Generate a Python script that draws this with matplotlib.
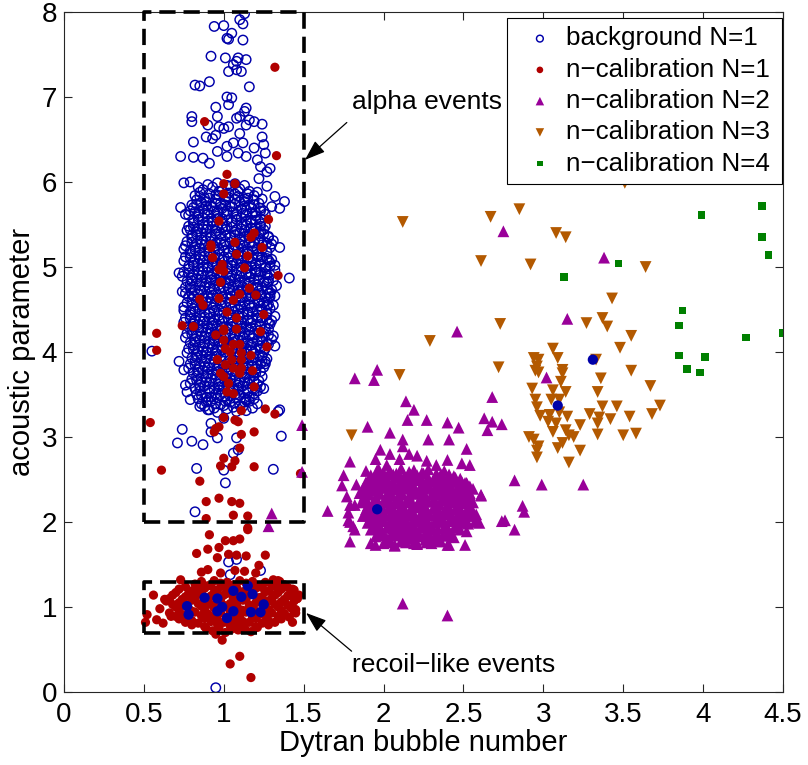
import numpy as np
import matplotlib
matplotlib.use("Agg")
import matplotlib.pyplot as plt

plt.rcParams['font.family'] = ['Liberation Sans', 'DejaVu Sans']

# ---------------------------------------------------------------- data
# background N=1 : sparse events around the alpha band
bg_outer = [
    (1.13,7.98),(1.10,7.91),(1.12,7.86),(0.94,7.83),(1.00,7.84),(1.05,7.75),(1.02,7.69),
    (1.03,7.68),(1.12,7.67),(0.92,7.48),(1.01,7.46),(1.09,7.46),(1.08,7.42),(1.14,7.44),
    (1.06,7.38),(1.03,7.30),(1.08,7.32),(1.11,7.30),(0.82,7.14),(0.85,7.13),(0.91,7.18),
    (1.16,7.12),(1.02,7.00),(1.05,6.99),(1.03,6.91),(0.95,6.88),(1.14,6.87),(1.13,6.83),
    (1.10,6.77),(0.80,6.77),(0.80,6.71),(0.96,6.77),(0.90,6.67),(0.97,6.65),(1.03,6.65),
    (1.16,6.73),(1.19,6.71),(1.24,6.68),(1.14,6.67),(1.08,6.75),(1.00,6.63),(0.81,6.47),
    (0.89,6.53),(0.95,6.55),(1.10,6.57),(1.24,6.53),(1.25,6.44),(1.26,6.34),(0.73,6.30),
    (0.81,6.29),(0.87,6.28),(1.06,6.46),(1.12,6.46),(1.19,6.40),(1.02,6.42),(0.96,6.36),
    (0.93,6.51),(1.09,6.34),(1.14,6.30),(1.02,6.30),(1.21,6.26),(0.91,6.22),(1.23,6.18),
    (1.29,6.16),(0.75,5.99),(0.79,6.00),(0.84,5.94),(1.27,5.95),(1.22,6.04),(1.27,6.12),
    (1.32,5.83),(1.38,5.77),(1.35,5.69),(1.30,5.71),(0.73,5.70),(0.76,5.62),(1.31,5.31),
    (1.35,5.23),(1.41,4.87),(1.27,4.91),(0.72,4.93),(0.75,5.21),(0.79,5.44),(1.23,5.42),
    (1.28,5.08),(1.29,4.69),(0.76,4.69),(1.27,4.55),(0.75,4.49),(1.28,4.34),(0.55,4.01),
    (1.32,4.07),(1.26,3.89),(0.72,3.89),(0.75,3.79),(0.76,3.61),(0.77,3.53),(1.25,3.57),
    (0.79,3.44),(0.85,3.36),(0.91,3.32),(1.00,3.22),(1.14,3.44),(1.35,3.32),(0.74,3.09),
    (0.92,3.16),(0.96,2.99),(0.80,2.95),(0.87,2.91),(1.08,2.99),(1.36,3.01),(0.71,2.93),
    (0.92,3.06),(1.34,3.30),(0.83,2.63),(1.00,2.61),(1.01,2.46),(1.31,2.62),(0.82,2.12),
    (1.06,2.81),(1.09,2.85),(1.03,1.53),(1.08,1.56),(1.23,1.43),(1.04,1.38),(0.95,0.05),
]

# background N=1 : dense core of the alpha band
bg_core_a = [
    (0.87,5.91),(0.93,5.94),(0.99,5.90),(1.04,5.95),(1.10,5.92),(1.16,5.89),
    (0.82,5.84),(0.88,5.81),(0.95,5.85),(1.01,5.82),(1.07,5.86),(1.13,5.80),(1.19,5.84),
    (0.80,5.73),(0.86,5.76),(0.92,5.72),(0.98,5.75),(1.04,5.71),(1.10,5.77),(1.16,5.73),(1.22,5.75),
    (0.79,5.66),(0.84,5.63),(0.90,5.67),(0.96,5.64),(1.02,5.66),(1.08,5.62),(1.14,5.67),(1.20,5.64),(1.25,5.66),
    (0.81,5.55),(0.87,5.58),(0.93,5.54),(0.99,5.57),(1.05,5.53),(1.11,5.58),(1.17,5.55),(1.23,5.57),
    (0.78,5.48),(0.84,5.45),(0.90,5.49),(0.96,5.46),(1.02,5.48),(1.08,5.44),(1.14,5.49),(1.20,5.46),(1.26,5.48),
    (0.80,5.37),(0.86,5.40),(0.92,5.36),(0.98,5.39),(1.04,5.35),(1.10,5.40),(1.16,5.37),(1.22,5.39),(1.28,5.36),
    (0.77,5.30),(0.83,5.27),(0.89,5.31),(0.95,5.28),(1.01,5.30),(1.07,5.26),(1.13,5.31),(1.19,5.28),(1.25,5.30),(1.30,5.27),
    (0.79,5.19),(0.85,5.22),(0.91,5.18),(0.97,5.21),(1.03,5.17),(1.09,5.22),(1.15,5.19),(1.21,5.21),(1.27,5.18),
    (0.76,5.12),(0.82,5.09),(0.88,5.13),(0.94,5.10),(1.00,5.12),(1.06,5.08),(1.12,5.13),(1.18,5.10),(1.24,5.12),(1.30,5.09),
    (0.78,5.01),(0.84,5.04),(0.90,5.00),(0.96,5.03),(1.02,4.99),(1.08,5.04),(1.14,5.01),(1.20,5.03),(1.26,5.00),(1.32,5.02),
    (0.75,4.94),(0.81,4.91),(0.87,4.95),(0.93,4.92),(0.99,4.94),(1.05,4.90),(1.11,4.95),(1.17,4.92),(1.23,4.94),(1.29,4.91),
    (0.77,4.83),(0.83,4.86),(0.89,4.82),(0.95,4.85),(1.01,4.81),(1.07,4.86),(1.13,4.83),(1.19,4.85),(1.25,4.82),(1.31,4.84),
    (0.76,4.76),(0.82,4.73),(0.88,4.77),(0.94,4.74),(1.00,4.76),(1.06,4.72),(1.12,4.77),(1.18,4.74),(1.24,4.76),(1.30,4.73),
    (0.78,4.65),(0.84,4.68),(0.90,4.64),(0.96,4.67),(1.02,4.63),(1.08,4.68),(1.14,4.65),(1.20,4.67),(1.26,4.64),(1.32,4.66),
    (0.77,4.58),(0.83,4.55),(0.89,4.59),(0.95,4.56),(1.01,4.58),(1.07,4.54),(1.13,4.59),(1.19,4.56),(1.25,4.58),(1.31,4.55),
    (0.79,4.47),(0.85,4.50),(0.91,4.46),(0.97,4.49),(1.03,4.45),(1.09,4.50),(1.15,4.47),(1.21,4.49),(1.27,4.46),
    (0.76,4.40),(0.82,4.37),(0.88,4.41),(0.94,4.38),(1.00,4.40),(1.06,4.36),(1.12,4.41),(1.18,4.38),(1.24,4.40),(1.30,4.37),
    (0.78,4.29),(0.84,4.32),(0.90,4.28),(0.96,4.31),(1.02,4.27),(1.08,4.32),(1.14,4.29),(1.20,4.31),(1.26,4.28),
    (0.77,4.22),(0.83,4.19),(0.89,4.23),(0.95,4.20),(1.01,4.22),(1.07,4.18),(1.13,4.23),(1.19,4.20),(1.25,4.22),(1.31,4.19),
    (0.79,4.11),(0.85,4.14),(0.91,4.10),(0.97,4.13),(1.03,4.09),(1.09,4.14),(1.15,4.11),(1.21,4.13),(1.27,4.10),
    (0.78,4.04),(0.84,4.01),(0.90,4.05),(0.96,4.02),(1.02,4.04),(1.08,4.00),(1.14,4.05),(1.20,4.02),(1.26,4.04),
    (0.80,3.93),(0.86,3.96),(0.92,3.92),(0.98,3.95),(1.04,3.91),(1.10,3.96),(1.16,3.93),(1.22,3.95),(1.27,3.92),
    (0.79,3.86),(0.85,3.83),(0.91,3.87),(0.97,3.84),(1.03,3.86),(1.09,3.82),(1.15,3.87),(1.21,3.84),(1.26,3.86),
    (0.81,3.75),(0.87,3.78),(0.93,3.74),(0.99,3.77),(1.05,3.73),(1.11,3.78),(1.17,3.75),(1.23,3.77),
    (0.80,3.68),(0.86,3.65),(0.92,3.69),(0.98,3.66),(1.04,3.68),(1.10,3.64),(1.16,3.69),(1.22,3.66),
    (0.82,3.57),(0.88,3.60),(0.94,3.56),(1.00,3.59),(1.06,3.55),(1.12,3.60),(1.18,3.57),(1.23,3.59),
    (0.83,3.50),(0.89,3.47),(0.95,3.51),(1.01,3.48),(1.07,3.50),(1.13,3.46),(1.19,3.51),
    (0.86,3.39),(0.92,3.42),(0.98,3.38),(1.04,3.41),(1.10,3.37),(1.16,3.42),(1.21,3.39),
    (0.90,3.32),(0.96,3.29),(1.02,3.33),(1.08,3.30),(1.14,3.31),
]

bg_core_b = [
    (0.90,5.97),(0.96,5.99),(1.02,5.96),(1.07,5.98),(1.13,5.96),
    (0.85,5.88),(0.91,5.86),(0.97,5.89),(1.03,5.87),(1.09,5.89),(1.15,5.86),(1.21,5.88),
    (0.83,5.79),(0.89,5.77),(0.95,5.80),(1.01,5.78),(1.07,5.80),(1.13,5.77),(1.19,5.79),(1.24,5.80),
    (0.81,5.70),(0.87,5.68),(0.93,5.71),(0.99,5.69),(1.05,5.71),(1.11,5.68),(1.17,5.70),(1.23,5.69),
    (0.78,5.61),(0.84,5.59),(0.90,5.62),(0.96,5.60),(1.02,5.62),(1.08,5.59),(1.14,5.61),(1.20,5.60),(1.26,5.62),
    (0.81,5.52),(0.87,5.50),(0.93,5.53),(0.99,5.51),(1.05,5.53),(1.11,5.50),(1.17,5.52),(1.23,5.51),
    (0.77,5.43),(0.83,5.41),(0.89,5.44),(0.95,5.42),(1.01,5.44),(1.07,5.41),(1.13,5.43),(1.19,5.42),(1.25,5.44),
    (0.80,5.34),(0.86,5.32),(0.92,5.35),(0.98,5.33),(1.04,5.35),(1.10,5.32),(1.16,5.34),(1.22,5.33),(1.28,5.35),
    (0.76,5.25),(0.82,5.23),(0.88,5.26),(0.94,5.24),(1.00,5.26),(1.06,5.23),(1.12,5.25),(1.18,5.24),(1.24,5.26),(1.29,5.23),
    (0.79,5.16),(0.85,5.14),(0.91,5.17),(0.97,5.15),(1.03,5.17),(1.09,5.14),(1.15,5.16),(1.21,5.15),(1.27,5.17),
    (0.75,5.07),(0.81,5.05),(0.87,5.08),(0.93,5.06),(0.99,5.08),(1.05,5.05),(1.11,5.07),(1.17,5.06),(1.23,5.08),(1.29,5.05),
    (0.78,4.98),(0.84,4.96),(0.90,4.99),(0.96,4.97),(1.02,4.99),(1.08,4.96),(1.14,4.98),(1.20,4.97),(1.26,4.99),(1.32,4.96),
    (0.74,4.89),(0.80,4.87),(0.86,4.90),(0.92,4.88),(0.98,4.90),(1.04,4.87),(1.10,4.89),(1.16,4.88),(1.22,4.90),(1.28,4.87),
    (0.79,4.80),(0.85,4.78),(0.91,4.81),(0.97,4.79),(1.03,4.81),(1.09,4.78),(1.15,4.80),(1.21,4.79),(1.27,4.81),(1.33,4.78),
    (0.74,4.71),(0.80,4.69),(0.86,4.72),(0.92,4.70),(0.98,4.72),(1.04,4.69),(1.10,4.71),(1.16,4.70),(1.22,4.72),(1.28,4.69),
    (0.80,4.62),(0.86,4.60),(0.92,4.63),(0.98,4.61),(1.04,4.63),(1.10,4.60),(1.16,4.62),(1.22,4.61),(1.28,4.63),
    (0.75,4.53),(0.81,4.51),(0.87,4.54),(0.93,4.52),(0.99,4.54),(1.05,4.51),(1.11,4.53),(1.17,4.52),(1.23,4.54),(1.29,4.51),
    (0.79,4.44),(0.85,4.42),(0.91,4.45),(0.97,4.43),(1.03,4.45),(1.09,4.42),(1.15,4.44),(1.21,4.43),(1.27,4.45),(1.32,4.42),
    (0.75,4.35),(0.81,4.33),(0.87,4.36),(0.93,4.34),(0.99,4.36),(1.05,4.33),(1.11,4.35),(1.17,4.34),(1.23,4.36),(1.29,4.33),
    (0.80,4.26),(0.86,4.24),(0.92,4.27),(0.98,4.25),(1.04,4.27),(1.10,4.24),(1.16,4.26),(1.22,4.25),(1.28,4.27),
    (0.76,4.17),(0.82,4.15),(0.88,4.18),(0.94,4.16),(1.00,4.18),(1.06,4.15),(1.12,4.17),(1.18,4.16),(1.24,4.18),(1.30,4.15),
    (0.81,4.08),(0.87,4.06),(0.93,4.09),(0.99,4.07),(1.05,4.09),(1.11,4.06),(1.17,4.08),(1.23,4.07),(1.28,4.09),
    (0.77,3.99),(0.83,3.97),(0.89,4.00),(0.95,3.98),(1.01,4.00),(1.07,3.97),(1.13,3.99),(1.19,3.98),(1.25,4.00),
    (0.82,3.90),(0.88,3.88),(0.94,3.91),(1.00,3.89),(1.06,3.91),(1.12,3.88),(1.18,3.90),(1.24,3.89),
    (0.78,3.81),(0.84,3.79),(0.90,3.82),(0.96,3.80),(1.02,3.82),(1.08,3.79),(1.14,3.81),(1.20,3.80),(1.25,3.82),
    (0.83,3.72),(0.89,3.70),(0.95,3.73),(1.01,3.71),(1.07,3.73),(1.13,3.70),(1.19,3.72),(1.24,3.71),
    (0.79,3.63),(0.85,3.61),(0.91,3.64),(0.97,3.62),(1.03,3.64),(1.09,3.61),(1.15,3.63),(1.21,3.62),
    (0.85,3.54),(0.91,3.52),(0.97,3.55),(1.03,3.53),(1.09,3.55),(1.15,3.52),(1.21,3.54),
    (0.84,3.45),(0.90,3.43),(0.96,3.46),(1.02,3.44),(1.08,3.46),(1.14,3.43),(1.19,3.45),
    (0.88,3.36),(0.94,3.34),(1.00,3.37),(1.06,3.35),(1.12,3.36),(1.18,3.34),
]

bg_core_c = [
    (0.85,5.83),(0.91,5.81),(0.97,5.84),(1.03,5.82),(1.09,5.83),(1.15,5.81),
    (0.83,5.74),(0.89,5.72),(0.95,5.75),(1.01,5.73),(1.07,5.74),(1.13,5.72),(1.19,5.73),
    (0.82,5.65),(0.88,5.63),(0.94,5.66),(1.00,5.64),(1.06,5.65),(1.12,5.63),(1.18,5.64),(1.23,5.66),
    (0.84,5.56),(0.90,5.54),(0.96,5.57),(1.02,5.55),(1.08,5.56),(1.14,5.54),(1.20,5.55),
    (0.81,5.47),(0.87,5.45),(0.93,5.48),(0.99,5.46),(1.05,5.47),(1.11,5.45),(1.17,5.46),(1.23,5.48),
    (0.83,5.38),(0.89,5.36),(0.95,5.39),(1.01,5.37),(1.07,5.38),(1.13,5.36),(1.19,5.37),(1.25,5.39),
    (0.80,5.29),(0.86,5.27),(0.92,5.30),(0.98,5.28),(1.04,5.29),(1.10,5.27),(1.16,5.28),(1.22,5.30),(1.27,5.28),
    (0.82,5.20),(0.88,5.18),(0.94,5.21),(1.00,5.19),(1.06,5.20),(1.12,5.18),(1.18,5.19),(1.24,5.21),
    (0.79,5.11),(0.85,5.09),(0.91,5.12),(0.97,5.10),(1.03,5.11),(1.09,5.09),(1.15,5.10),(1.21,5.12),(1.27,5.10),
    (0.81,5.02),(0.87,5.00),(0.93,5.03),(0.99,5.01),(1.05,5.02),(1.11,5.00),(1.17,5.01),(1.23,5.03),(1.29,5.01),
    (0.78,4.93),(0.84,4.91),(0.90,4.94),(0.96,4.92),(1.02,4.93),(1.08,4.91),(1.14,4.92),(1.20,4.94),(1.26,4.92),
    (0.80,4.84),(0.86,4.82),(0.92,4.85),(0.98,4.83),(1.04,4.84),(1.10,4.82),(1.16,4.83),(1.22,4.85),(1.28,4.83),
    (0.79,4.75),(0.85,4.73),(0.91,4.76),(0.97,4.74),(1.03,4.75),(1.09,4.73),(1.15,4.74),(1.21,4.76),(1.27,4.74),
    (0.81,4.66),(0.87,4.64),(0.93,4.67),(0.99,4.65),(1.05,4.66),(1.11,4.64),(1.17,4.65),(1.23,4.67),(1.29,4.65),
    (0.80,4.57),(0.86,4.55),(0.92,4.58),(0.98,4.56),(1.04,4.57),(1.10,4.55),(1.16,4.56),(1.22,4.58),(1.28,4.56),
    (0.82,4.48),(0.88,4.46),(0.94,4.49),(1.00,4.47),(1.06,4.48),(1.12,4.46),(1.18,4.47),(1.24,4.49),
    (0.79,4.39),(0.85,4.37),(0.91,4.40),(0.97,4.38),(1.03,4.39),(1.09,4.37),(1.15,4.38),(1.21,4.40),(1.27,4.38),
    (0.81,4.30),(0.87,4.28),(0.93,4.31),(0.99,4.29),(1.05,4.30),(1.11,4.28),(1.17,4.29),(1.23,4.31),
    (0.80,4.21),(0.86,4.19),(0.92,4.22),(0.98,4.20),(1.04,4.21),(1.10,4.19),(1.16,4.20),(1.22,4.22),(1.28,4.20),
    (0.82,4.12),(0.88,4.10),(0.94,4.13),(1.00,4.11),(1.06,4.12),(1.12,4.10),(1.18,4.11),(1.24,4.13),
    (0.81,4.03),(0.87,4.01),(0.93,4.04),(0.99,4.02),(1.05,4.03),(1.11,4.01),(1.17,4.02),(1.23,4.04),
    (0.83,3.94),(0.89,3.92),(0.95,3.95),(1.01,3.93),(1.07,3.94),(1.13,3.92),(1.19,3.93),(1.24,3.95),
    (0.82,3.85),(0.88,3.83),(0.94,3.86),(1.00,3.84),(1.06,3.85),(1.12,3.83),(1.18,3.84),(1.23,3.86),
    (0.84,3.76),(0.90,3.74),(0.96,3.77),(1.02,3.75),(1.08,3.76),(1.14,3.74),(1.20,3.75),
    (0.83,3.67),(0.89,3.65),(0.95,3.68),(1.01,3.66),(1.07,3.67),(1.13,3.65),(1.19,3.66),
    (0.85,3.58),(0.91,3.56),(0.97,3.59),(1.03,3.57),(1.09,3.58),(1.15,3.56),(1.20,3.57),
    (0.86,3.49),(0.92,3.47),(0.98,3.50),(1.04,3.48),(1.10,3.49),(1.16,3.47),
    (0.89,3.41),(0.95,3.39),(1.01,3.42),(1.07,3.40),(1.13,3.41),
]

# n-calibration N=1 : single-bubble events (alpha band and outliers)
n1_scatter = [
    (1.32,7.35),(0.88,6.71),(1.33,6.31),(1.02,6.09),(1.00,5.98),(1.07,5.98),(1.00,5.86),
    (1.28,5.56),(0.97,5.54),(1.19,5.40),(1.17,5.35),(1.07,5.29),(0.92,5.26),(0.92,5.23),
    (1.24,5.23),(1.08,5.15),(1.15,5.13),(0.93,5.11),(0.99,5.03),(0.97,4.97),(1.00,4.95),
    (1.13,4.99),(1.34,4.90),(0.98,4.82),(1.16,4.75),(1.10,4.68),(1.20,4.67),(0.85,4.62),
    (0.87,4.55),(0.97,4.63),(1.06,4.61),(1.02,4.47),(1.08,4.40),(1.25,4.44),(0.74,4.31),
    (0.81,4.30),(1.00,4.27),(1.08,4.27),(0.58,4.22),(0.58,4.02),(0.95,4.20),(1.00,4.25),
    (1.23,4.24),(1.00,4.14),(1.06,4.09),(1.10,4.09),(1.27,4.06),(1.01,4.04),(1.04,4.00),
    (1.11,3.99),(1.17,3.96),(0.96,3.91),(1.05,3.91),(1.11,3.91),(1.01,3.85),(1.11,3.81),
    (1.06,3.81),(1.18,3.78),(0.98,3.75),(1.00,3.71),(1.10,3.75),(1.03,3.63),(1.19,3.59),
    (1.02,3.53),(1.06,3.51),(0.54,3.17),(1.11,3.31),(1.26,3.33),(1.32,3.27),(1.00,3.23),
    (1.07,3.20),(1.09,3.18),(0.95,3.10),(0.97,3.12),(0.94,3.06),(1.19,3.06),(1.11,3.03),
    (1.10,2.87),(1.07,2.72),(1.00,2.75),(0.98,2.66),(1.05,2.65),(1.19,2.65),(0.61,2.61),
    (0.85,2.48),(0.89,2.24),(0.97,2.28),(1.05,2.24),(1.10,2.22),(0.89,2.04),(1.06,2.08),
    (1.15,2.07),(1.48,2.57),(1.15,1.93),(0.91,1.85),(1.15,1.91),(1.01,1.78),(1.06,1.78),
    (1.10,1.80),(0.83,1.63),(0.90,1.68),(0.97,1.70),(0.96,1.58),(1.03,1.62),(1.08,1.61),
    (1.14,1.60),(1.26,1.61),(1.22,1.49),(0.86,1.41),(0.90,1.44),(0.98,1.40),(1.07,1.43),
    (1.13,1.42),(1.20,1.40),(0.73,1.32),(0.56,1.14),(0.63,1.09),(0.60,0.98),(0.52,0.91),
    (0.51,0.82),(0.58,0.85),(0.62,0.81),(0.67,0.89),(1.43,1.21),(1.46,1.10),(1.45,0.97),
    (1.43,0.82),(1.35,1.30),(1.31,1.32),(0.95,0.68),(0.99,0.61),(1.10,0.42),(1.04,0.33),
    (1.17,0.17),
]

# n-calibration N=1 : recoil-like cluster
n1_recoil = [
    (0.82,1.27),(0.90,1.25),(0.98,1.28),(1.06,1.26),(1.14,1.28),(1.22,1.25),(1.30,1.27),(1.38,1.26),
    (0.72,1.21),(0.80,1.19),(0.88,1.22),(0.96,1.20),(1.04,1.21),(1.12,1.18),(1.20,1.22),(1.28,1.19),(1.36,1.21),(1.44,1.20),
    (0.68,1.14),(0.76,1.12),(0.84,1.15),(0.92,1.13),(1.00,1.14),(1.08,1.11),(1.16,1.15),(1.24,1.12),(1.32,1.14),(1.40,1.13),(1.47,1.14),
    (0.64,1.07),(0.72,1.05),(0.80,1.08),(0.88,1.06),(0.96,1.07),(1.04,1.04),(1.12,1.08),(1.20,1.05),(1.28,1.07),(1.36,1.06),(1.44,1.07),
    (0.70,1.00),(0.78,0.98),(0.86,1.01),(0.94,0.99),(1.02,1.00),(1.10,0.97),(1.18,1.01),(1.26,0.98),(1.34,1.00),(1.42,0.99),
    (0.66,0.93),(0.74,0.91),(0.82,0.94),(0.90,0.92),(0.98,0.93),(1.06,0.90),(1.14,0.94),(1.22,0.91),(1.30,0.93),(1.38,0.92),(1.45,0.93),
    (0.72,0.86),(0.80,0.84),(0.88,0.87),(0.96,0.85),(1.04,0.86),(1.12,0.83),(1.20,0.87),(1.28,0.84),(1.36,0.86),
    (0.80,0.79),(0.88,0.77),(0.96,0.80),(1.04,0.78),(1.12,0.79),(1.20,0.77),(1.28,0.79),
    (0.93,0.72),(1.01,0.70),(1.09,0.73),(1.17,0.71),
    (0.86,1.30),(0.94,1.31),(1.02,1.29),(1.10,1.31),(1.18,1.30),(1.26,1.29),(1.34,1.31),
    (0.76,1.24),(0.84,1.23),(0.92,1.25),(1.00,1.24),(1.08,1.23),(1.16,1.24),(1.24,1.23),(1.32,1.24),(1.40,1.23),
    (0.70,1.17),(0.78,1.16),(0.86,1.18),(0.94,1.17),(1.02,1.16),(1.10,1.17),(1.18,1.16),(1.26,1.18),(1.34,1.17),(1.42,1.16),
    (0.66,1.10),(0.74,1.09),(0.82,1.11),(0.90,1.10),(0.98,1.09),(1.06,1.10),(1.14,1.09),(1.22,1.11),(1.30,1.10),(1.38,1.09),(1.46,1.10),
    (0.68,1.03),(0.76,1.02),(0.84,1.04),(0.92,1.03),(1.00,1.02),(1.08,1.03),(1.16,1.02),(1.24,1.04),(1.32,1.03),(1.40,1.02),
    (0.72,0.96),(0.80,0.95),(0.88,0.97),(0.96,0.96),(1.04,0.95),(1.12,0.96),(1.20,0.95),(1.28,0.97),(1.36,0.96),(1.44,0.95),
    (0.70,0.89),(0.78,0.88),(0.86,0.90),(0.94,0.89),(1.02,0.88),(1.10,0.89),(1.18,0.88),(1.26,0.90),(1.34,0.89),(1.41,0.88),
    (0.76,0.82),(0.84,0.81),(0.92,0.83),(1.00,0.82),(1.08,0.81),(1.16,0.82),(1.24,0.81),(1.32,0.82),
    (0.89,0.75),(0.97,0.76),(1.05,0.74),(1.13,0.75),(1.21,0.76),
]

# n-calibration N=2
n2_outer = [
    (2.46,4.24),(1.96,3.79),(1.82,3.69),(1.94,3.67),(2.14,3.42),(2.19,3.32),(2.15,3.20),
    (2.27,3.20),(2.40,3.17),(2.47,3.11),(1.90,3.12),(2.04,3.05),(2.12,2.97),(2.28,2.97),
    (2.41,2.97),(2.52,2.86),(2.68,3.47),(2.63,3.22),(2.68,3.18),(2.74,3.15),(2.65,3.08),
    (1.79,2.71),(1.75,2.55),(1.74,2.43),(1.65,2.13),(1.77,2.30),(1.78,2.11),(1.78,2.02),
    (1.82,1.91),(1.79,1.77),(1.95,1.73),(2.07,1.72),(2.21,1.75),(2.41,1.73),(2.51,1.73),
    (2.52,1.89),(2.58,2.09),(2.61,2.31),(2.52,2.46),(2.54,2.67),(2.49,2.69),(2.82,2.49),
    (2.99,2.44),(2.87,2.19),(2.88,2.12),(2.74,2.01),(2.76,2.02),(2.82,1.91),(2.60,1.99),
    (2.12,1.04),(2.40,0.90),(3.38,5.11),(3.15,4.39),(3.02,3.70),(3.25,2.44),(2.61,2.32),
    (1.49,3.14),(1.49,2.59),(1.30,2.10),(1.28,1.95),(2.75,5.42),(1.98,2.85),(2.12,2.89),
    (2.04,2.80),(1.95,2.74),(2.16,2.80),(2.21,2.78),(2.10,2.74),(2.27,2.72),(2.40,2.73),
    (2.33,2.67),(2.02,2.67),(1.89,2.60),(1.96,2.61),(2.18,2.55),(2.35,2.53),(2.45,2.52),
    (1.83,2.44),(1.89,2.42),(2.52,2.45),(1.85,2.34),(1.79,2.20),(1.82,2.20),(2.57,2.00),
    (1.79,2.00),(1.92,1.75),(1.81,1.95),
]

n2_core = [
    (1.97,2.62),(2.04,2.60),(2.11,2.63),(2.19,2.61),(2.28,2.62),(2.38,2.60),
    (1.92,2.55),(1.99,2.53),(2.06,2.56),(2.13,2.54),(2.21,2.55),(2.28,2.52),(2.36,2.56),(2.44,2.54),
    (1.89,2.47),(1.96,2.45),(2.03,2.48),(2.10,2.46),(2.17,2.47),(2.24,2.44),(2.31,2.48),(2.38,2.45),(2.45,2.47),(2.51,2.46),
    (1.87,2.39),(1.94,2.37),(2.01,2.40),(2.08,2.38),(2.15,2.39),(2.22,2.36),(2.29,2.40),(2.36,2.37),(2.43,2.39),(2.50,2.38),(2.56,2.39),
    (1.88,2.31),(1.95,2.29),(2.02,2.32),(2.09,2.30),(2.16,2.31),(2.23,2.28),(2.30,2.32),(2.37,2.29),(2.44,2.31),(2.51,2.30),
    (1.86,2.23),(1.93,2.21),(2.00,2.24),(2.07,2.22),(2.14,2.23),(2.21,2.20),(2.28,2.24),(2.35,2.21),(2.42,2.23),(2.49,2.22),(2.56,2.23),
    (1.89,2.15),(1.96,2.13),(2.03,2.16),(2.10,2.14),(2.17,2.15),(2.24,2.12),(2.31,2.16),(2.38,2.13),(2.45,2.15),(2.52,2.14),
    (1.87,2.07),(1.94,2.05),(2.01,2.08),(2.08,2.06),(2.15,2.07),(2.22,2.04),(2.29,2.08),(2.36,2.05),(2.43,2.07),(2.50,2.06),(2.57,2.07),
    (1.90,1.99),(1.97,1.97),(2.04,2.00),(2.11,1.98),(2.18,1.99),(2.25,1.96),(2.32,2.00),(2.39,1.97),(2.46,1.99),(2.53,1.98),
    (1.92,1.91),(1.99,1.89),(2.06,1.92),(2.13,1.90),(2.20,1.91),(2.27,1.88),(2.34,1.92),(2.41,1.89),(2.48,1.91),
    (1.95,1.83),(2.02,1.81),(2.09,1.84),(2.16,1.82),(2.23,1.83),(2.30,1.80),(2.37,1.84),(2.44,1.82),
    (2.00,1.75),(2.07,1.73),(2.14,1.76),(2.21,1.74),(2.30,1.75),(2.40,1.73),
    (2.00,2.58),(2.08,2.57),(2.16,2.59),(2.24,2.58),(2.33,2.57),
    (1.95,2.51),(2.02,2.50),(2.09,2.52),(2.17,2.51),(2.24,2.50),(2.32,2.51),(2.40,2.50),(2.48,2.51),
    (1.91,2.43),(1.98,2.42),(2.05,2.44),(2.12,2.43),(2.19,2.42),(2.26,2.43),(2.34,2.42),(2.41,2.44),(2.48,2.43),(2.54,2.42),
    (1.90,2.35),(1.97,2.34),(2.04,2.36),(2.11,2.35),(2.18,2.34),(2.25,2.35),(2.33,2.34),(2.40,2.36),(2.47,2.35),(2.54,2.34),
    (1.89,2.27),(1.96,2.26),(2.03,2.28),(2.10,2.27),(2.17,2.26),(2.24,2.27),(2.32,2.26),(2.39,2.28),(2.46,2.27),(2.53,2.26),
    (1.90,2.19),(1.97,2.18),(2.04,2.20),(2.11,2.19),(2.18,2.18),(2.25,2.19),(2.33,2.18),(2.40,2.20),(2.47,2.19),(2.54,2.18),
    (1.91,2.11),(1.98,2.10),(2.05,2.12),(2.12,2.11),(2.19,2.10),(2.26,2.11),(2.34,2.10),(2.41,2.12),(2.48,2.11),(2.55,2.10),
    (1.92,2.03),(1.99,2.02),(2.06,2.04),(2.13,2.03),(2.20,2.02),(2.27,2.03),(2.35,2.02),(2.42,2.04),(2.49,2.03),
    (1.95,1.95),(2.02,1.94),(2.09,1.96),(2.16,1.95),(2.23,1.94),(2.30,1.95),(2.38,1.94),(2.45,1.96),
    (1.98,1.87),(2.05,1.86),(2.12,1.88),(2.19,1.87),(2.26,1.86),(2.33,1.87),(2.41,1.86),
    (2.04,1.79),(2.11,1.78),(2.18,1.80),(2.26,1.79),(2.35,1.78),
    (1.96,2.56),(2.03,2.57),(2.10,2.55),(2.17,2.56),(2.25,2.57),(2.33,2.55),(2.41,2.56),
    (1.92,2.48),(1.99,2.49),(2.06,2.47),(2.13,2.48),(2.20,2.49),(2.27,2.47),(2.35,2.48),(2.42,2.49),(2.49,2.47),
    (1.90,2.40),(1.97,2.41),(2.04,2.39),(2.11,2.40),(2.18,2.41),(2.25,2.39),(2.32,2.40),(2.39,2.41),(2.46,2.39),(2.53,2.40),
    (1.91,2.32),(1.98,2.33),(2.05,2.31),(2.12,2.32),(2.19,2.33),(2.26,2.31),(2.33,2.32),(2.40,2.33),(2.47,2.31),(2.54,2.32),
    (1.89,2.24),(1.96,2.25),(2.03,2.23),(2.10,2.24),(2.17,2.25),(2.24,2.23),(2.31,2.24),(2.38,2.25),(2.45,2.23),(2.52,2.24),
    (1.92,2.16),(1.99,2.17),(2.06,2.15),(2.13,2.16),(2.20,2.17),(2.27,2.15),(2.34,2.16),(2.41,2.17),(2.48,2.15),(2.55,2.16),
    (1.90,2.08),(1.97,2.09),(2.04,2.07),(2.11,2.08),(2.18,2.09),(2.25,2.07),(2.32,2.08),(2.39,2.09),(2.46,2.07),(2.53,2.08),
    (1.93,2.00),(2.00,2.01),(2.07,1.99),(2.14,2.00),(2.21,2.01),(2.28,1.99),(2.35,2.00),(2.42,2.01),(2.49,1.99),
    (1.96,1.92),(2.03,1.93),(2.10,1.91),(2.17,1.92),(2.24,1.93),(2.31,1.91),(2.38,1.92),(2.45,1.93),
    (1.99,1.84),(2.06,1.85),(2.13,1.83),(2.20,1.84),(2.27,1.85),(2.34,1.83),(2.41,1.84),
    (2.04,1.76),(2.12,1.77),(2.19,1.75),(2.27,1.76),(2.36,1.77),
]

# n-calibration N=3
n3 = [
    (3.51,5.99),(2.85,5.68),(2.67,5.59),(3.08,5.40),(3.14,5.35),(2.61,5.07),(2.92,5.03),
    (3.64,5.00),(2.12,5.53),(3.43,4.63),(2.73,4.33),(3.27,4.34),(3.37,4.40),(3.40,4.30),
    (3.55,4.19),(3.48,4.05),(3.06,4.04),(3.09,3.93),(2.97,3.91),(2.96,3.83),(2.72,3.82),
    (3.33,3.91),(3.12,3.79),(3.12,3.75),(3.55,3.78),(2.97,3.76),(3.36,3.69),(3.11,3.65),
    (3.67,3.60),(2.93,3.57),(3.06,3.55),(3.14,3.53),(3.34,3.53),(2.95,3.44),(3.05,3.44),
    (3.10,3.44),(3.37,3.36),(3.46,3.36),(3.73,3.37),(2.96,3.35),(2.98,3.25),(3.04,3.26),
    (3.10,3.29),(3.15,3.24),(3.29,3.27),(3.35,3.23),(3.42,3.21),(3.54,3.24),(3.68,3.27),
    (3.03,3.18),(3.08,3.16),(3.23,3.14),(3.34,3.16),(3.06,3.06),(3.14,3.08),(3.16,3.02),
    (3.19,3.00),(2.91,3.00),(2.94,2.97),(3.34,3.03),(3.50,3.02),(3.58,3.04),(3.12,2.93),
    (3.09,2.87),(2.96,2.84),(3.23,2.84),(2.96,2.76),(3.16,2.70),(2.29,4.13),(2.10,3.73),
    (1.80,3.02),(2.94,3.93),(2.95,3.78),(2.97,2.89),
]

# n-calibration N=4
n4 = [
    (4.37,5.72),(3.99,5.61),(4.37,5.35),(4.41,5.14),(3.47,5.04),(3.13,4.88),(3.87,4.49),
    (3.85,4.31),(4.50,4.22),(4.27,4.17),(3.85,3.96),(4.01,3.94),(3.90,3.80),(3.98,3.76),
]

# events marked by filled blue dots (not in legend)
marked = [
    (0.77,1.01),(0.78,0.91),(0.88,1.11),(0.96,1.10),(0.99,1.00),(0.96,0.95),(1.02,0.87),
    (1.06,0.95),(1.06,1.19),(1.11,1.12),(1.15,1.25),(1.18,1.15),(1.17,0.94),(1.23,0.94),
    (1.25,1.03),(1.96,2.15),(3.09,3.37),(3.31,3.91),
]

x_ticks = [0, 0.5, 1, 1.5, 2, 2.5, 3, 3.5, 4, 4.5]
x_tick_labels = ['0', '0.5', '1', '1.5', '2', '2.5', '3', '3.5', '4', '4.5']
y_ticks = [0, 1, 2, 3, 4, 5, 6, 7, 8]
legend_labels = ['background N=1', 'n\u2212calibration N=1', 'n\u2212calibration N=2',
                 'n\u2212calibration N=3', 'n\u2212calibration N=4']

# analysis windows (x0, x1, y0, y1)
alpha_window = (0.5, 1.5, 2.0, 8.0)
recoil_window = (0.5, 1.5, 0.7, 1.3)


def cols(pts):
    a = np.asarray(pts, dtype=float)
    return a[:, 0], a[:, 1]


# ---------------------------------------------------------------- figure
fig = plt.figure(figsize=(8.08, 7.65), dpi=100)
ax = fig.add_axes([64 / 808, 73 / 765, 719 / 808, 680 / 765])

BLUE = '#0000AA'
RED = '#B00000'
PURPLE = '#990099'
ORANGE = '#B35900'
GREEN = '#008000'
DARKBLUE = '#0000A8'

bx, by = cols(bg_outer + bg_core_a + bg_core_b + bg_core_c)
h0 = ax.scatter(bx, by, s=46, facecolors='none', edgecolors=BLUE, linewidths=1.05, zorder=2)

rx, ry = cols(n1_scatter + n1_recoil)
h1 = ax.scatter(rx, ry, s=44, c=RED, edgecolors='none', zorder=3)

px, py = cols(n2_core + n2_outer)
h2 = ax.scatter(px, py, s=72, marker='^', c=PURPLE, edgecolors='none', zorder=4)

ox, oy = cols(n3)
h3 = ax.scatter(ox, oy, s=72, marker='v', c=ORANGE, edgecolors='none', zorder=4)

gx, gy = cols(n4)
h4 = ax.scatter(gx, gy, s=30, marker='s', c=GREEN, edgecolors='none', zorder=4)

mx, my = cols(marked)
ax.scatter(mx, my, s=55, c=DARKBLUE, edgecolors='none', zorder=5)

# dashed selection windows
for (x0, x1, y0, y1) in (alpha_window, recoil_window):
    ax.plot([x0, x1, x1, x0, x0], [y0, y0, y1, y1, y0], color='k', lw=2.6,
            ls=(0, (4.5, 2.2)), zorder=7, clip_on=False, solid_capstyle='butt')

# annotations
arrow = dict(arrowstyle='-|>,head_length=0.7,head_width=0.25', color='k', lw=0.9,
             shrinkA=0, shrinkB=0, mutation_scale=18)
ax.annotate('', xy=(1.508, 6.26), xytext=(1.77, 6.70), arrowprops=arrow, zorder=8)
ax.text(1.80, 6.94, 'alpha events', fontsize=19, ha='left', va='center', zorder=8)
ax.annotate('', xy=(1.515, 0.93), xytext=(1.80, 0.48), arrowprops=arrow, zorder=8)
ax.text(1.80, 0.32, 'recoil\u2212like events', fontsize=19, ha='left', va='center', zorder=8)

ax.set_xlim(0, 4.5)
ax.set_ylim(0, 8)
ax.set_xticks(x_ticks)
ax.set_xticklabels(x_tick_labels)
ax.set_yticks(y_ticks)
ax.tick_params(direction='in', length=6, width=0.8, top=True, right=True,
               labelsize=20, colors='#262626', labelcolor='k')
ax.tick_params(axis='x', pad=7)
ax.tick_params(axis='y', pad=5)
for sp in ax.spines.values():
    sp.set_color('#262626')
    sp.set_linewidth(0.8)

ax.set_xlabel('Dytran bubble number', fontsize=21, labelpad=1)
ax.set_ylabel('acoustic parameter', fontsize=21, labelpad=4)

leg = ax.legend([h0, h1, h2, h3, h4], legend_labels, loc='upper left',
                bbox_to_anchor=(0.616, 0.749, 0.3826, 0.242), mode='expand',
                fontsize=18.7, markerscale=0.72, frameon=True, fancybox=False,
                edgecolor='k', framealpha=1, borderpad=0.32, labelspacing=0.28,
                handlelength=1.9, handletextpad=0.05, borderaxespad=0)
leg.get_frame().set_linewidth(0.8)
leg.set_zorder(10)

fig.savefig('out.png', dpi=100)
